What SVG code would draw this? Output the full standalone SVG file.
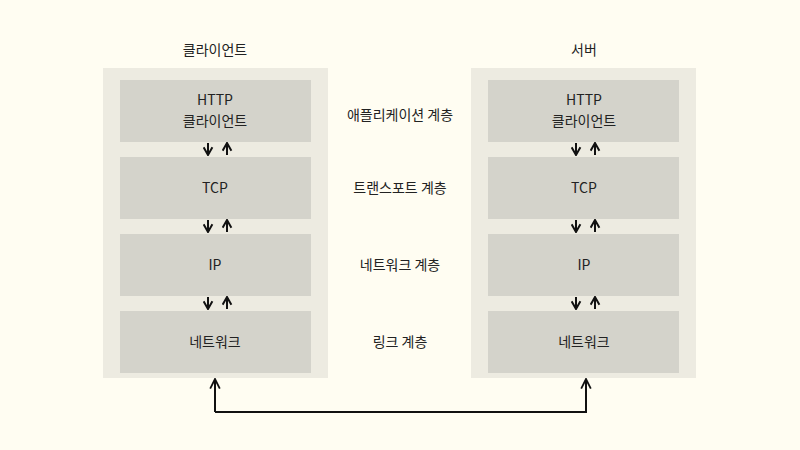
<svg xmlns="http://www.w3.org/2000/svg" width="800" height="450" viewBox="0 0 800 450">
<style>
text{font-family:"Noto Sans CJK KR","Noto Sans",sans-serif;font-size:14px;fill:#222;text-anchor:middle}
.panel{fill:#edebe1}
.box{fill:#d4d3cb}
.ar{stroke:#111;stroke-width:2;fill:none}
</style>
<defs>
<marker id="h" viewBox="0 0 10 10" refX="9" refY="5" markerWidth="11" markerHeight="11" markerUnits="userSpaceOnUse" orient="auto"><path d="M2,1 L9,5 L2,9" fill="none" stroke="#111" stroke-width="1.8"/></marker>
<marker id="hb" viewBox="0 0 10 10" refX="9" refY="5" markerWidth="12" markerHeight="12" markerUnits="userSpaceOnUse" orient="auto"><path d="M1,1 L9,5 L1,9" fill="none" stroke="#111" stroke-width="1.5"/></marker>
</defs>
<rect width="800" height="450" fill="#fffdf2"/>
<g id="client">
<text x="215" y="55">클라이언트</text>
<rect class="panel" x="103" y="68" width="225" height="310"/>
</g>
<g id="server">
<text x="584" y="55">서버</text>
<rect class="panel" x="471" y="68" width="225" height="310"/>
</g>
<g id="c-http"><rect class="box" x="120" y="80" width="191" height="62"/><text x="215" y="105">HTTP</text><text x="215" y="126">클라이언트</text></g>
<g id="c-tcp"><rect class="box" x="120" y="157" width="191" height="62"/><text x="215" y="193">TCP</text></g>
<g id="c-ip"><rect class="box" x="120" y="234" width="191" height="62"/><text x="215" y="270">IP</text></g>
<g id="c-net"><rect class="box" x="120" y="311" width="191" height="62"/><text x="215" y="347">네트워크</text></g>
<g id="s-http"><rect class="box" x="488" y="80" width="191" height="62"/><text x="584" y="105">HTTP</text><text x="584" y="126">클라이언트</text></g>
<g id="s-tcp"><rect class="box" x="488" y="157" width="191" height="62"/><text x="584" y="193">TCP</text></g>
<g id="s-ip"><rect class="box" x="488" y="234" width="191" height="62"/><text x="584" y="270">IP</text></g>
<g id="s-net"><rect class="box" x="488" y="311" width="191" height="62"/><text x="584" y="347">네트워크</text></g>
<g id="labels">
<text x="400" y="120">애플리케이션 계층</text>
<text x="400" y="193">트랜스포트 계층</text>
<text x="400" y="270">네트워크 계층</text>
<text x="400" y="347">링크 계층</text>
</g>
<g id="connectors" class="ar">
<path d="M208,143 V155" marker-end="url(#h)"/><path d="M227,155 V143" marker-end="url(#h)"/>
<path d="M208,220 V232" marker-end="url(#h)"/><path d="M227,232 V220" marker-end="url(#h)"/>
<path d="M208,297 V309" marker-end="url(#h)"/><path d="M227,309 V297" marker-end="url(#h)"/>
<path d="M576,143 V155" marker-end="url(#h)"/><path d="M595,155 V143" marker-end="url(#h)"/>
<path d="M576,220 V232" marker-end="url(#h)"/><path d="M595,232 V220" marker-end="url(#h)"/>
<path d="M576,297 V309" marker-end="url(#h)"/><path d="M595,309 V297" marker-end="url(#h)"/>
<path d="M215,412 V379" marker-end="url(#hb)"/>
<path d="M215,412 H586 V379" marker-end="url(#hb)"/>
</g>
</svg>
